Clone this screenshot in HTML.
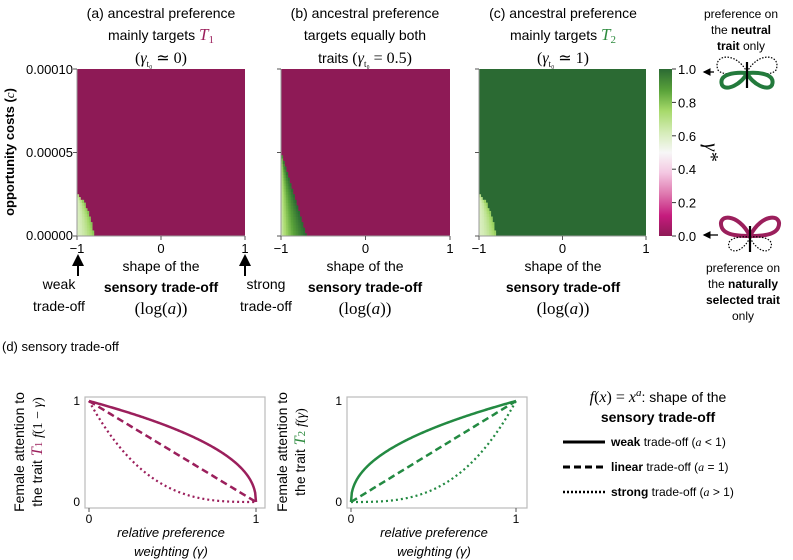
<!DOCTYPE html>
<html><head><meta charset="utf-8">
<style>
html,body{margin:0;padding:0;background:#fff;}
svg{display:block;font-family:"Liberation Sans",sans-serif;}
.serif{font-family:"Liberation Serif",serif;}
</style></head>
<body>
<svg id="fig" width="793" height="560" viewBox="0 0 793 560" xmlns="http://www.w3.org/2000/svg">
<defs>
<linearGradient id="cbgrad" x1="0" y1="1" x2="0" y2="0">
<stop offset="0" stop-color="#8e1a56"/><stop offset="0.12" stop-color="#c51b7d"/><stop offset="0.25" stop-color="#de77ae"/>
<stop offset="0.38" stop-color="#f4c8e2"/><stop offset="0.5" stop-color="#f7f7f7"/><stop offset="0.62" stop-color="#d5ecb8"/>
<stop offset="0.75" stop-color="#a6d96a"/><stop offset="0.87" stop-color="#5aa33a"/><stop offset="1" stop-color="#2b6a33"/>
</linearGradient>
<marker id="ah" markerWidth="6" markerHeight="6" refX="5" refY="3" orient="auto"><path d="M0,0 L6,3 L0,6 z" fill="#000"/></marker>
</defs>

<g font-size="14" text-anchor="middle">
<text x="161" y="18">(a) ancestral preference</text>
<text x="161" y="40">mainly targets <tspan class="serif" font-style="italic" fill="#9b1f5c" font-size="17">T</tspan><tspan class="serif" fill="#9b1f5c" font-size="11" dy="3">1</tspan></text>
<text x="161" y="63" class="serif" font-size="16">(<tspan font-style="italic">γ</tspan><tspan font-size="9" dy="4">t₀</tspan><tspan dy="-4"> ≃ 0)</tspan></text>
<text x="365" y="18">(b) ancestral preference</text>
<text x="365" y="40">targets equally both</text>
<text x="365" y="63">traits <tspan class="serif" font-size="16">(<tspan font-style="italic">γ</tspan><tspan font-size="9" dy="4">t₀</tspan><tspan dy="-4"> = 0.5)</tspan></tspan></text>
<text x="563" y="18">(c) ancestral preference</text>
<text x="563" y="40">mainly targets <tspan class="serif" font-style="italic" fill="#2e8b3f" font-size="17">T</tspan><tspan class="serif" fill="#2e8b3f" font-size="11" dy="3">2</tspan></text>
<text x="563" y="63" class="serif" font-size="16">(<tspan font-style="italic">γ</tspan><tspan font-size="9" dy="4">t₀</tspan><tspan dy="-4"> ≃ 1)</tspan></text>
</g>

<g id="heatmaps"></g>

<g font-size="13" text-anchor="end">
<text x="73" y="74">0.00010</text>
<text x="73" y="157">0.00005</text>
<text x="73" y="240">0.00000</text>
</g>
<text transform="translate(14,152) rotate(-90)" text-anchor="middle" font-size="13" font-weight="bold">opportunity costs (<tspan class="serif" font-style="italic" font-weight="normal">c</tspan>)</text>

<g font-size="14" text-anchor="middle">
<text x="161" y="271">shape of the</text>
<text x="161" y="292" font-weight="bold">sensory trade-off</text>
<text x="161" y="314" class="serif" font-size="17">(log(<tspan font-style="italic">a</tspan>))</text>
<text x="365" y="271">shape of the</text>
<text x="365" y="292" font-weight="bold">sensory trade-off</text>
<text x="365" y="314" class="serif" font-size="17">(log(<tspan font-style="italic">a</tspan>))</text>
<text x="563" y="271">shape of the</text>
<text x="563" y="292" font-weight="bold">sensory trade-off</text>
<text x="563" y="314" class="serif" font-size="17">(log(<tspan font-style="italic">a</tspan>))</text>
<text x="59" y="289">weak</text>
<text x="59" y="311">trade-off</text>
<text x="266" y="289">strong</text>
<text x="266" y="311">trade-off</text>
</g>
<line x1="78" y1="276" x2="78" y2="256" stroke="#000" stroke-width="2" marker-end="url(#ah)"/>
<line x1="245" y1="276" x2="245" y2="256" stroke="#000" stroke-width="2" marker-end="url(#ah)"/>

<rect x="659" y="69" width="13" height="167" fill="url(#cbgrad)"/>
<g id="cbticks" font-size="13"></g>
<text transform="translate(705,152) rotate(90)" text-anchor="middle" class="serif" font-style="italic" font-size="20">γ*</text>
<line x1="714" y1="72" x2="704" y2="72" stroke="#000" stroke-width="1.3" marker-end="url(#ah)"/>
<line x1="718" y1="235" x2="704" y2="235" stroke="#000" stroke-width="1.3" marker-end="url(#ah)"/>

<g>
<path d="M747,72 C735,50 712,55 718,70 C722,76 740,74 747,72 Z M747,72 C759,50 782,55 776,70 C772,76 754,74 747,72 Z" fill="none" stroke="#000" stroke-width="1.2" stroke-dasharray="1.5,1.5"/>
<path d="M747,73 C735,72 718,74 722,85 C726,92 742,84 747,73 Z M747,73 C759,72 776,74 772,85 C768,92 752,84 747,73 Z" fill="none" stroke="#237a3c" stroke-width="4"/>
<line x1="747" y1="62" x2="747" y2="88" stroke="#000" stroke-width="2.2"/>
</g>
<g font-size="12" text-anchor="middle">
<text x="741" y="18">preference on</text>
<text x="741" y="34">the <tspan font-weight="bold">neutral</tspan></text>
<text x="741" y="50"><tspan font-weight="bold">trait</tspan> only</text>
</g>
<g>
<path d="M750,236 C738,212 716,214 722,228 C726,236 742,236 750,236 Z M750,236 C762,212 784,214 778,228 C774,236 758,236 750,236 Z" fill="none" stroke="#9b1f5c" stroke-width="4"/>
<path d="M750,237 C740,236 726,238 729,247 C733,256 746,248 750,237 Z M750,237 C760,236 774,238 771,247 C767,256 754,248 750,237 Z" fill="none" stroke="#000" stroke-width="1.2" stroke-dasharray="1.5,1.5"/>
<line x1="750" y1="226" x2="750" y2="252" stroke="#000" stroke-width="2.2"/>
</g>
<g font-size="12" text-anchor="middle">
<text x="743" y="272">preference on</text>
<text x="743" y="288">the <tspan font-weight="bold">naturally</tspan></text>
<text x="743" y="304" font-weight="bold">selected trait</text>
<text x="743" y="320">only</text>
</g>

<text x="2" y="351" font-size="13">(d) sensory trade-off</text>
<g id="curves"></g>
<text transform="translate(24,452) rotate(-90)" text-anchor="middle" font-size="14">Female attention to</text>
<text transform="translate(42,452) rotate(-90)" text-anchor="middle" font-size="14">the trait <tspan class="serif" font-style="italic" fill="#9b1f5c" font-size="16">T</tspan><tspan class="serif" fill="#9b1f5c" font-size="11">1</tspan> <tspan class="serif" font-style="italic">f</tspan><tspan class="serif">(1 − </tspan><tspan class="serif" font-style="italic">γ</tspan><tspan class="serif">)</tspan></text>
<text transform="translate(287,452) rotate(-90)" text-anchor="middle" font-size="14">Female attention to</text>
<text transform="translate(305,452) rotate(-90)" text-anchor="middle" font-size="14">the trait <tspan class="serif" font-style="italic" fill="#2e8b3f" font-size="16">T</tspan><tspan class="serif" fill="#2e8b3f" font-size="11">2</tspan> <tspan class="serif" font-style="italic">f</tspan><tspan class="serif">(</tspan><tspan class="serif" font-style="italic">γ</tspan><tspan class="serif">)</tspan></text>
<g font-size="13" font-style="italic" text-anchor="middle">
<text x="171" y="537">relative preference</text>
<text x="171" y="556">weighting (γ)</text>
<text x="434" y="537">relative preference</text>
<text x="434" y="556">weighting (γ)</text>
</g>
<g>
<text x="658" y="402" text-anchor="middle" font-size="14"><tspan class="serif" font-style="italic" font-size="16">f</tspan><tspan class="serif" font-size="16">(</tspan><tspan class="serif" font-style="italic" font-size="16">x</tspan><tspan class="serif" font-size="16">) = </tspan><tspan class="serif" font-style="italic" font-size="16">x</tspan><tspan class="serif" font-style="italic" font-size="11" dy="-6">a</tspan><tspan dy="6">: shape of the</tspan></text>
<text x="658" y="422" text-anchor="middle" font-size="14" font-weight="bold">sensory trade-off</text>
<line x1="563" y1="442" x2="605" y2="442" stroke="#000" stroke-width="3"/>
<line x1="563" y1="467" x2="605" y2="467" stroke="#000" stroke-width="3" stroke-dasharray="7,4"/>
<line x1="563" y1="492" x2="605" y2="492" stroke="#000" stroke-width="2.5" stroke-dasharray="2,2"/>
<g font-size="12">
<text x="611" y="446"><tspan font-weight="bold">weak</tspan> trade-off (<tspan class="serif" font-style="italic">a</tspan> &lt; 1)</text>
<text x="611" y="471"><tspan font-weight="bold">linear</tspan> trade-off (<tspan class="serif" font-style="italic">a</tspan> = 1)</text>
<text x="611" y="496"><tspan font-weight="bold">strong</tspan> trade-off (<tspan class="serif" font-style="italic">a</tspan> &gt; 1)</text>
</g>
</g>
</svg>

<script>
// ---------- heatmap data ----------
const cLevels = [0, 0.00001, 0.00002, 0.000025, 0.00004, 0.00005, 0.0001];
const boundaryA = [-0.79, -0.84, -0.91, -1.0, -1.0, -1.0, -1.0];
const boundaryB = [-0.70, -0.76, -0.82, -0.85, -0.94, -1.0, -1.0];
const boundaryC = [-0.79, -0.84, -0.91, -1.0, -1.0, -1.0, -1.0];
const dominantVals = [0, 0, 1];
const innerMinVals = [0.6, 0.6, 0.6];
const innerMaxVals = [0.8, 1.0, 0.78];
const shapeExps = [1.5, 0.6, 1.5];
const yTicks = [0, 0.00005, 0.0001];
const xTicks = [-1, 0, 1];
const cbTicks = [0, 0.2, 0.4, 0.6, 0.8, 1.0];

const NS = "http://www.w3.org/2000/svg";
const panels = [{x0:77,x1:245,b:boundaryA},{x0:281,x1:450,b:boundaryB},{x0:479,x1:646,b:boundaryC}];
const yTop = 69, yBot = 236;
const stops = [[0,[142,26,86]],[0.12,[197,27,125]],[0.25,[222,119,174]],[0.38,[244,200,226]],[0.5,[247,247,247]],[0.62,[213,236,184]],[0.75,[166,217,106]],[0.87,[90,163,58]],[1,[43,106,51]]];
function cmap(v){for(let i=1;i<stops.length;i++){if(v<=stops[i][0]){const a=stops[i-1],b=stops[i];const t=(v-a[0])/(b[0]-a[0]);return 'rgb('+a[1].map((c,k)=>Math.round(c+(b[1][k]-c)*t)).join(',')+')';}}return 'rgb(43,106,51)';}
function el(tag, attrs, parent){const e=document.createElementNS(NS,tag);for(const k in attrs)e.setAttribute(k,attrs[k]);parent.appendChild(e);return e;}
function bAt(b,c){for(let i=1;i<cLevels.length;i++){if(c<=cLevels[i]){const t=(c-cLevels[i-1])/(cLevels[i]-cLevels[i-1]);return b[i-1]+(b[i]-b[i-1])*t;}}return b[b.length-1];}

const hm = document.getElementById('heatmaps');
panels.forEach((p,pi)=>{
  const xs = v => p.x0 + (v+1)/2*(p.x1-p.x0);
  const ys = v => yBot - v/0.0001*(yBot-yTop);
  const g = el('g',{},hm);
  
  
  const bg = el('rect',{x:p.x0,y:yTop,width:p.x1-p.x0,height:yBot-yTop,fill:cmap(dominantVals[pi])},g);
  
  
  const nR=60, nC=100, dc=0.0001/nR, da=2/nC;
  for(let r=0;r<nR;r++){
    const c=(r+0.5)*dc, bd=bAt(p.b,c);
    if(bd<=-1) continue;
    for(let k=0;k<nC;k++){
      const a=-1+(k+0.5)*da;
      if(a>=bd) break;
      const t=(a+1)/(bd+1);
      const v=innerMinVals[pi]+(innerMaxVals[pi]-innerMinVals[pi])*Math.pow(t,shapeExps[pi]);
      const cell=el('rect',{x:xs(-1+k*da),y:ys((r+1)*dc),width:xs(-1+da)-xs(-1)+0.4,height:ys(0)-ys(dc)+0.4,fill:cmap(v)},g);
      
      
    }
  }
  el('line',{x1:p.x0,y1:yTop,x2:p.x0,y2:yBot+1,stroke:'#999','stroke-width':1},g);
  el('line',{x1:p.x0,y1:yBot,x2:p.x1,y2:yBot,stroke:'#999','stroke-width':1},g);
  yTicks.forEach(t=>el('line',{x1:p.x0-4,y1:ys(t),x2:p.x0,y2:ys(t),stroke:'#555'},g));
  xTicks.forEach(t=>{
    el('line',{x1:xs(t),y1:yBot,x2:xs(t),y2:yBot+4,stroke:'#555'},g);
    const tx=el('text',{x:xs(t),y:yBot+17,'text-anchor':'middle','font-size':13},g);
    tx.textContent = t<0 ? '−'+Math.abs(t) : String(t);
    
    
  });
});
const cbg=document.getElementById('cbticks');
cbTicks.forEach(t=>{
  const y=236-t*167;
  el('line',{x1:672,y1:y,x2:676,y2:y,stroke:'#333'},cbg);
  const tx=el('text',{x:678,y:y+5},cbg);
  tx.textContent=t.toFixed(1);
  
  
});

// ---------- panel d data ----------
const exponents = [0.45, 1, 3];
const dashes = ['none', '7,4', '2,3'];
const lineWidths = [2.5, 2.5, 2.2];
const dTicks = [0, 1];
const dPanels = [{x0:89,x1:256,box:[85,397,265,508],color:'#9b1f5c',flip:true},{x0:351,x1:516,box:[347,397,527,508],color:'#238a42',flip:false}];
const cg=document.getElementById('curves');
dPanels.forEach((p,pi)=>{
  const xs=v=>p.x0+v*(p.x1-p.x0), ys=v=>502-v*(502-401);
  const g=el('g',{},cg);
  
  
  el('rect',{x:p.box[0],y:p.box[1],width:p.box[2]-p.box[0],height:p.box[3]-p.box[1],fill:'none',stroke:'#bbb','stroke-width':1.2},g);
  dTicks.forEach(t=>{
    const a=el('text',{x:p.box[0]-5,y:ys(t)+4,'text-anchor':'end','font-size':12},g);a.textContent=t;
    
    
    const b=el('text',{x:xs(t),y:523,'text-anchor':'middle','font-size':12},g);b.textContent=t;
    
    
    el('line',{x1:xs(t),y1:508,x2:xs(t),y2:512,stroke:'#555'},g);
  });
  exponents.forEach((ex,i)=>{
    let d='';
    for(let k=0;k<=200;k++){const gm=k/200;const x=p.flip?1-gm:gm;const v=Math.pow(x,ex);d+=(k?'L':'M')+xs(gm).toFixed(2)+','+ys(v).toFixed(2);}
    const path=el('path',{d:d,fill:'none',stroke:p.color,'stroke-width':lineWidths[i]},g);
    if(dashes[i]!=='none')path.setAttribute('stroke-dasharray',dashes[i]);
    
    
  });
});
</script>
</body></html>
